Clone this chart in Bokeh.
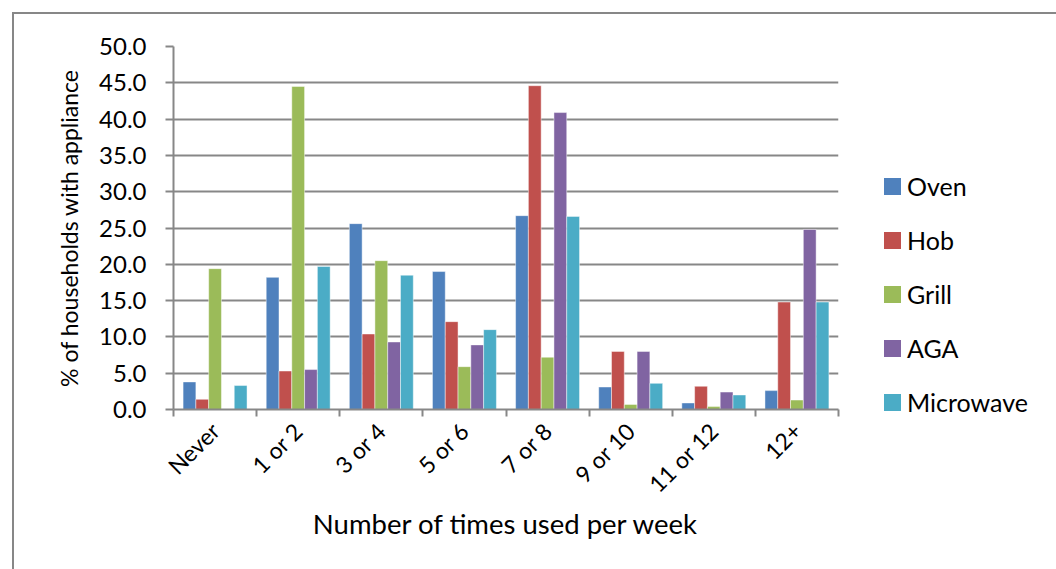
import math

from bokeh.embed import file_html
from bokeh.layouts import row
from bokeh.models import (ColumnDataSource, Div, FixedTicker,
                          PrintfTickFormatter, Range1d)
from bokeh.plotting import figure
from bokeh.resources import INLINE
from bokeh.transform import dodge

# categories (times used per week)
cats = ["Never", "1 or 2", "3 or 4", "5 or 6", "7 or 8", "9 or 10", "11 or 12", "12+"]

# % of households with appliance
oven = [3.8, 18.2, 25.6, 19.0, 26.7, 3.1, 0.9, 2.6]
hob = [1.4, 5.3, 10.4, 12.1, 44.6, 8.0, 3.2, 14.8]
grill = [19.4, 44.5, 20.5, 5.9, 7.2, 0.7, 0.4, 1.3]
aga = [0.0, 5.5, 9.3, 8.9, 40.9, 8.0, 2.4, 24.8]
microwave = [3.3, 19.7, 18.5, 11.0, 26.6, 3.6, 2.0, 14.8]

series = [
    ("Oven", "oven", "#4F81BD"),
    ("Hob", "hob", "#C0504D"),
    ("Grill", "grill", "#9BBB59"),
    ("AGA", "aga", "#8064A2"),
    ("Microwave", "microwave", "#4BACC6"),
]

FONT = "Lato"
GREY = "#878787"

xc = [i + 0.5 for i in range(len(cats))]
src = ColumnDataSource(dict(xc=xc, oven=oven, hob=hob, grill=grill, aga=aga,
                            microwave=microwave))

p = figure(
    width=834, height=553,
    x_range=Range1d(0, len(cats)), y_range=Range1d(0, 50),
    output_backend="svg", toolbar_location=None,
    min_border_left=159, min_border_right=10,
    min_border_top=32, min_border_bottom=158,
)
p.outline_line_color = None

# bars: gap width 150% like the spreadsheet chart
w = 1 / 6.5
for i, (label, col, color) in enumerate(series):
    p.vbar(x=dodge("xc", (i - 2) * w), top=col, width=w, source=src,
           fill_color=color, line_color="white", line_alpha=0.45, line_width=1)

# y axis
p.yaxis.ticker = FixedTicker(ticks=list(range(0, 51, 5)))
p.yaxis.formatter = PrintfTickFormatter(format="%.1f")
p.yaxis.axis_line_color = GREY
p.yaxis.axis_line_width = 2
p.yaxis.major_tick_line_color = GREY
p.yaxis.major_tick_line_width = 2
p.yaxis.major_tick_out = 8
p.yaxis.major_tick_in = 0
p.yaxis.minor_tick_line_color = None
p.yaxis.major_label_standoff = 19
p.yaxis.major_label_text_font = FONT
p.yaxis.major_label_text_font_size = "24px"
p.yaxis.major_label_text_color = "black"
p.yaxis.axis_label = "% of households with appliance"
p.yaxis.axis_label_text_font = FONT
p.yaxis.axis_label_text_font_size = "23px"
p.yaxis.axis_label_text_font_style = "normal"
p.yaxis.axis_label_text_color = "black"
p.yaxis.axis_label_standoff = 13

# x axis: labels at centres, tick marks at category boundaries
p.xaxis.ticker = FixedTicker(ticks=xc, minor_ticks=list(range(len(cats) + 1)))
p.xaxis.major_label_overrides = {x: c for x, c in zip(xc, cats)}
p.xaxis.major_label_orientation = math.pi / 4
p.xaxis.major_tick_out = 0
p.xaxis.major_tick_in = 0
p.xaxis.minor_tick_out = 7
p.xaxis.minor_tick_in = 0
p.xaxis.minor_tick_line_color = GREY
p.xaxis.minor_tick_line_width = 2
p.xaxis.axis_line_color = GREY
p.xaxis.axis_line_width = 2
p.xaxis.major_label_standoff = 10
p.xaxis.major_label_text_font = FONT
p.xaxis.major_label_text_font_size = "23px"
p.xaxis.major_label_text_color = "black"
p.xaxis.axis_label = "Number of times used per week"
p.xaxis.axis_label_text_font = FONT
p.xaxis.axis_label_text_font_size = "27.5px"
p.xaxis.axis_label_text_font_style = "normal"
p.xaxis.axis_label_text_color = "black"
p.xaxis.axis_label_standoff = -3

p.xgrid.grid_line_color = None
p.ygrid.ticker = FixedTicker(ticks=list(range(0, 51, 5)))
p.ygrid.grid_line_color = GREY
p.ygrid.grid_line_width = 2

# legend as a plain html block to the right of the plot
rows_html = "".join(
    f'<div style="display:flex;align-items:center;height:54px;">'
    f'<span style="display:inline-block;width:17px;height:17px;background:{color};'
    f'margin-right:6px;"></span>'
    f'<span style="font-family:{FONT};font-size:25px;color:black;line-height:1;">{label}</span>'
    f'</div>'
    for label, col, color in series
)
leg = Div(
    text=f'<div style="padding-top:140px;padding-left:31px;">{rows_html}</div>',
    width=206, height=553,
)

layout = row(p, leg, spacing=0)
layout.margin = (12, 0, 0, 12)
layout.styles = {"border-left": f"2px solid {GREY}", "border-top": f"2px solid {GREY}"}

open("out.html", "w").write(file_html(layout, INLINE))
